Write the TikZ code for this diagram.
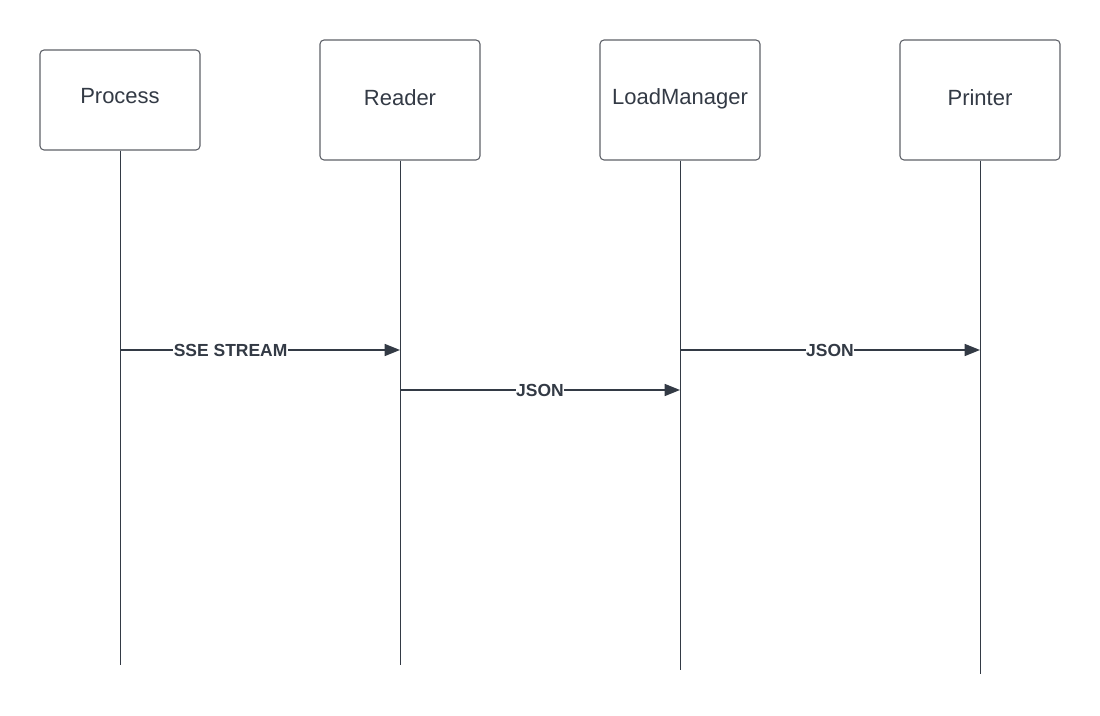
\documentclass[tikz,border=0pt]{standalone}
\usepackage{fontspec}
\setmainfont{Liberation Sans}
\usetikzlibrary{arrows.meta}
\definecolor{ink}{HTML}{333A45}
\definecolor{boxline}{HTML}{5E6168}
\begin{document}
\begin{tikzpicture}[x=0.75pt,y=-0.75pt,
  actor/.style={draw=boxline,line width=0.8pt,rounded corners=3pt,fill=white,
    minimum width=120pt,inner sep=0pt},
  actortext/.style={text=ink,font=\fontsize{16.5}{19}\selectfont,inner sep=0pt,anchor=base},
  lifeline/.style={draw=ink,line width=0.75pt},
  msg/.style={draw=ink,line width=1.1pt,-{Triangle[length=11.5pt,width=9pt]}},
  msglabel/.style={fill=white,text=ink,font=\bfseries\fontsize{13.1}{15}\selectfont,inner sep=0.5pt}]
\useasboundingbox[fill=white] (0,0) rectangle (1100,716);
% actors
\node[actor,minimum height=75pt] (proc) at (120,100) {};
\node[actor,minimum height=90pt] (read) at (400,100) {};
\node[actor,minimum height=90pt] (load) at (680,100) {};
\node[actor,minimum height=90pt] (prnt) at (980,100) {};
\node[actortext] (procT) at (120,103.5) {Process};
\node[actortext] (readT) at (400,106) {Reader};
\node[actortext] (loadT) at (680,104.5) {LoadManager};
\node[actortext] (prntT) at (980,106) {Printer};
% lifeline ends
\coordinate (procEnd) at (120,665);
\coordinate (readEnd) at (400,665);
\coordinate (loadEnd) at (680,670);
\coordinate (prntEnd) at (980,674);
\draw[lifeline] (proc.south) -- (procEnd);
\draw[lifeline] (read.south) -- (readEnd);
\draw[lifeline] (load.south) -- (loadEnd);
\draw[lifeline] (prnt.south) -- (prntEnd);
% message points
\coordinate (m1s) at (120,350);
\coordinate (m1e) at (400,350);
\coordinate (m2s) at (400,390);
\coordinate (m2e) at (680,390);
\coordinate (m3s) at (680,350);
\coordinate (m3e) at (980,350);
\draw[msg] (m1s) -- node[msglabel,pos=0.395] {SSE STREAM} (m1e);
\draw[msg] (m2s) -- node[msglabel] {JSON} (m2e);
\draw[msg] (m3s) -- node[msglabel] {JSON} (m3e);
\end{tikzpicture}
\end{document}
